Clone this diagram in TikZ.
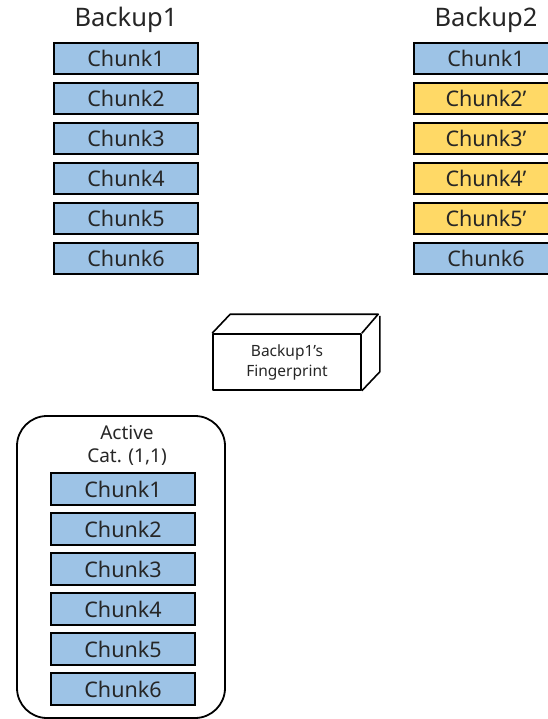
\documentclass[tikz,border=0pt]{standalone}
\usepackage{fontspec}
\setmainfont{Noto Sans}
\begin{document}
\begin{tikzpicture}[x=1pt,y=-1pt,
  chunkbox/.style={draw=black, line width=1.8pt, minimum width=144pt, minimum height=31pt,
    inner sep=0pt, font=\fontsize{21.5}{23}\selectfont, text=black!85},
  blue/.style={chunkbox, fill=chunkblue},
  gold/.style={chunkbox, fill=chunkgold},
  title/.style={font=\fontsize{25.5}{27}\selectfont, text=black!85, inner sep=0pt},
  edge/.style={line width=1.6pt, line join=round}]
\definecolor{chunkblue}{HTML}{9DC3E6}
\definecolor{chunkgold}{HTML}{FFD966}
\useasboundingbox (0,0) rectangle (547,719);

% first backup
\node[title] (b1) at (126,20) {Backup1};
\foreach \i in {1,...,6}
  \node[blue] (a\i) at (126,{18.5+40*\i}) {Chunk\i};

% second backup, modified chunks in gold
\node[title] (b2) at (486,20) {Backup2};
\node[blue] (c1) at (486,58.5) {Chunk1};
\foreach \i in {2,...,5}
  \node[gold] (c\i) at (486,{18.5+40*\i}) {Chunk\i'};
\node[blue] (c6) at (486,258.5) {Chunk6};

% fingerprint block drawn as a cuboid
\node[draw=black, edge, minimum width=148pt, minimum height=56pt, align=center,
  inner sep=0pt, font=\fontsize{15.5}{20}\selectfont, text=black!85] (fp) at (287,362)
  {Backup1's\\Fingerprint};
\draw[edge] (fp.north west) -- ++(18,-19) -- ++(148,0) -- (fp.north east);
\draw[edge] (fp.south east) -- ++(18,-19) -- ++(0,-56);

% active category container
\node[draw=black, line width=1.8pt, rounded corners=30pt, minimum width=208pt,
  minimum height=302pt, inner sep=0pt] (cat) at (121,567) {};
\node[align=center, font=\fontsize{19}{23}\selectfont, text=black!85, inner sep=0pt]
  (catlbl) at (127,445) {Active\\Cat. (1,1)};
\foreach \i in {1,...,6}
  \node[blue, minimum height=32pt] (d\i) at (123,{449+40*\i}) {Chunk\i};
\end{tikzpicture}
\end{document}
